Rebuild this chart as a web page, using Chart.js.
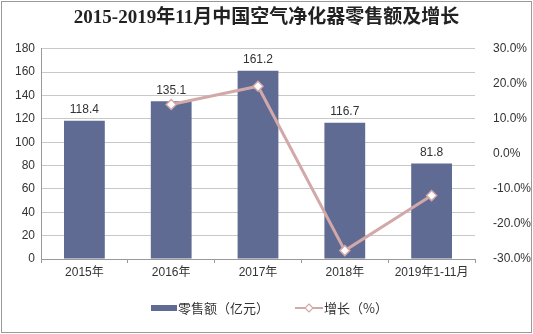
<!DOCTYPE html>
<html>
<head>
<meta charset="utf-8">
<script src="https://cdn.jsdelivr.net/npm/chart.js@4"></script>
<style>
  body { margin: 0; background: #fff; }
  #wrap { position: absolute; left: 0; top: 0; width: 533px; height: 334px; }
  #frame { position: absolute; left: 1px; top: 1px; width: 529px; height: 330px; border: 1px solid #9a9a9a; pointer-events: none; }
</style>
</head>
<body>
<div id="wrap">
  <canvas id="myChart" width="533" height="334"></canvas>
  <div id="frame"></div>
</div>
<script>
// data
var years = ["2015年", "2016年", "2017年", "2018年", "2019年1-11月"];
var sales = [118.4, 135.1, 161.2, 116.7, 81.8];
var growth = [null, 14.1, 19.3, -27.6, -11.9];
var salesLabel = "零售额（亿元）";
var growthLabel = "增长（%）";

var barColor = "#606b93";
var lineColor = "#d3a8a9";

// value labels above bars
var barValues = {
  id: 'barValues',
  afterDatasetsDraw: function(chart) {
    var ctx = chart.ctx;
    var meta = chart.getDatasetMeta(0);
    ctx.save();
    ctx.font = "12px 'Liberation Sans', Arial";
    ctx.fillStyle = "#333";
    ctx.textAlign = "center";
    ctx.textBaseline = "bottom";
    meta.data.forEach(function(bar, i) {
      ctx.fillText(sales[i].toFixed(1), bar.x, bar.y - 5);
    });
    ctx.restore();
  }
};

// legend at bottom
var bottomLegend = {
  id: 'bottomLegend',
  afterDraw: function(chart) {
    var ctx = chart.ctx;
    var y = 308;
    ctx.save();
    ctx.font = "13px 'Noto Sans CJK SC'";
    ctx.textBaseline = "middle";
    // bar item
    ctx.fillStyle = barColor;
    ctx.fillRect(151, y - 3, 26, 6);
    ctx.fillStyle = "#333";
    ctx.fillText(salesLabel, 178, y);
    // line item
    ctx.strokeStyle = lineColor;
    ctx.lineWidth = 2;
    ctx.beginPath();
    ctx.moveTo(295, y);
    ctx.lineTo(323, y);
    ctx.stroke();
    ctx.fillStyle = "#fff";
    ctx.lineWidth = 1.2;
    ctx.beginPath();
    ctx.moveTo(309, y - 4);
    ctx.lineTo(313, y);
    ctx.lineTo(309, y + 4);
    ctx.lineTo(305, y);
    ctx.closePath();
    ctx.fill();
    ctx.stroke();
    ctx.fillStyle = "#333";
    ctx.fillText(growthLabel, 324, y);
    ctx.restore();
  }
};

new Chart(document.getElementById("myChart").getContext('2d'), {
  type: 'bar',
  data: {
    labels: years,
    datasets: [{
      label: salesLabel,
      type: 'bar',
      data: sales,
      backgroundColor: barColor,
      categoryPercentage: 1,
      barPercentage: 0.47,
      yAxisID: 'y',
      order: 2
    }, {
      label: growthLabel,
      type: 'line',
      data: growth,
      borderColor: lineColor,
      borderWidth: 3,
      pointStyle: 'rectRot',
      pointRadius: 5,
      pointBackgroundColor: '#fff',
      pointBorderColor: lineColor,
      pointBorderWidth: 1.5,
      yAxisID: 'y1',
      order: 1
    }]
  },
  plugins: [barValues, bottomLegend],
  options: {
    responsive: false,
    animation: false,
    layout: { padding: { top: 0, bottom: 47, left: 0, right: 0 } },
    plugins: {
      legend: { display: false },
      tooltip: { enabled: false },
      title: {
        display: true,
        text: "2015-2019年11月中国空气净化器零售额及增长",
        color: "#222",
        font: { family: "'Liberation Serif', 'Noto Sans CJK SC'", size: 19, weight: 'bold' },
        padding: { top: 7, bottom: 19 }
      }
    },
    scales: {
      x: {
        grid: { display: true, drawOnChartArea: false, offset: true, color: '#999', tickLength: 4 },
        border: { color: '#999' },
        ticks: { color: '#333', font: { family: "'Liberation Sans', 'Noto Sans CJK SC'", size: 12 }, maxRotation: 0, padding: 2 },
        afterFit: function(s) { s.height = 28; }
      },
      y: {
        position: 'left',
        min: 0, max: 180,
        ticks: { stepSize: 20, color: '#333', font: { family: "'Liberation Sans', Arial", size: 12 }, padding: 6 },
        grid: { color: '#c8c8c8', tickLength: 0 },
        border: { display: true, color: '#999' },
        afterFit: function(s) { s.width = 41; }
      },
      y1: {
        position: 'right',
        min: -30, max: 30,
        ticks: {
          stepSize: 10, color: '#333', font: { family: "'Liberation Sans', Arial", size: 12 }, padding: 10,
          callback: function(v) { return v.toFixed(1) + '%'; }
        },
        grid: { display: false },
        border: { display: false },
        afterFit: function(s) { s.width = 58; }
      }
    }
  }
});
</script>
</body>
</html>
